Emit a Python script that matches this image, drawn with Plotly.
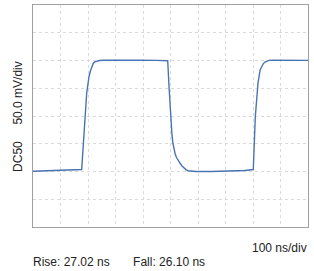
import plotly.graph_objects as go

# time in ns, voltage in mV (display: 50 mV/div, 100 ns/div)
time_ns = [0, 60, 120, 177, 195.3, 199, 203.6, 209, 214, 219.3, 225, 232.7, 242, 254.5,
           300, 380, 450, 489.8, 495, 500.7, 505, 509, 512.7, 517, 521.8, 528, 534.5, 541, 549, 556, 563.6,
           575, 592.7, 650, 716, 770, 801, 808.4, 818.2, 822, 826, 831.6, 837, 843.6,
           850, 858, 872.7, 920, 1000]
volt_mV = [100.4, 101.2, 102.2, 103.6, 241.4, 257, 270.8, 281.5, 289, 295, 297.5, 299, 300, 300.5,
           300.8, 300.4, 300.2, 299.6, 250, 198.7, 168, 150, 139.5, 131.5, 125.2, 119.5, 115.3, 110.5, 106.3, 103.5, 101.4,
           100.6, 100.1, 100.0, 100.9, 101.8, 103.6, 198.7, 259.5, 274, 283, 288.8, 294, 297.3,
           299, 300.2, 300.4, 300.6, 300.3]

fig = go.Figure(go.Scatter(x=time_ns, y=volt_mV, mode="lines",
                           line=dict(color="#4a73b3", width=1.4), hoverinfo="skip"))

axis_common = dict(showgrid=True, gridcolor="#dadada", griddash="dot", gridwidth=1,
                   showticklabels=False, ticks="", zeroline=False,
                   showline=True, linecolor="#a0a0a0", linewidth=1, mirror=True)
fig.update_xaxes(range=[0, 1000], dtick=100, **axis_common)
fig.update_yaxes(range=[0, 400], dtick=50, **axis_common)

font = dict(family="Liberation Sans, Arial, sans-serif", size=12, color="#222222")
fig.update_layout(
    width=314, height=271,
    margin=dict(l=33, r=6, t=5, b=44),
    paper_bgcolor="white", plot_bgcolor="white",
    showlegend=False, font=font,
    annotations=[
        dict(text="DC50     50.0 mV/div", xref="paper", yref="paper", x=-0.022, y=0.5,
             xanchor="right", yanchor="middle", textangle=-90, showarrow=False, font=font),
        dict(text="100 ns/div", xref="paper", yref="paper", x=1.0, y=-0.0946, xshift=1,
             xanchor="right", yanchor="middle", showarrow=False, font=font),
        dict(text="Rise: 27.02 ns       Fall: 26.10 ns", xref="paper", yref="paper", x=0.0, y=-0.158,
             xshift=-2, xanchor="left", yanchor="middle", showarrow=False, font=font),
    ],
)

fig.write_html("out.html", config={"displayModeBar": False},
               post_script="document.body.style.margin='0';document.body.style.padding='0';")
